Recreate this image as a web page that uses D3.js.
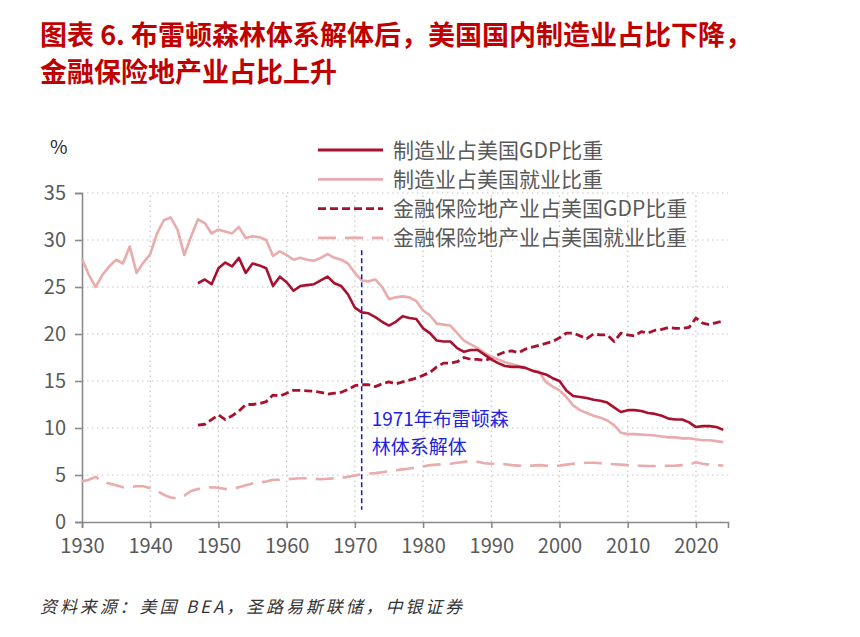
<!DOCTYPE html>
<html>
<head>
<meta charset="utf-8">
<script src="https://cdn.jsdelivr.net/npm/d3@7"></script>
<style>
  body { margin: 0; background: #fff; }
  svg text { font-family: "Noto Sans CJK SC", "Liberation Sans", sans-serif; }
</style>
</head>
<body>
<div id="chart"></div>
<script>
// data (%)
var mfgEmpStart = 1930;
var mfgEmp = [28.0, 26.3, 25.0, 26.3, 27.2, 27.9, 27.5, 29.3, 26.5, 27.6,
  28.5, 30.7, 32.1, 32.4, 31.1, 28.4, 30.4, 32.2, 31.8, 30.7,
  31.1, 30.9, 30.7, 31.4, 30.2, 30.4, 30.3, 30.0, 28.3, 28.8,
  28.4, 27.9, 28.1, 27.9, 27.8, 28.1, 28.5, 28.1, 27.9, 27.5,
  26.5, 25.7, 25.6, 25.8, 25.0, 23.7, 23.9, 24.0, 23.9, 23.5,
  22.5, 22.0, 21.1, 21.0, 20.9, 20.1, 19.3, 18.9, 18.5, 18.0,
  17.6, 17.3, 17.0, 16.8, 16.6, 16.4, 16.1, 16.0, 14.9, 14.4,
  14.0, 13.3, 12.4, 11.9, 11.6, 11.3, 11.1, 10.8, 10.3, 9.5,
  9.35, 9.35, 9.3, 9.25, 9.2, 9.1, 9.0, 9.0, 8.9, 8.9,
  8.8, 8.7, 8.7, 8.6, 8.5];

var mfgGdpStart = 1947;
var mfgGdp = [25.4, 25.8, 25.3,
  27.0, 27.6, 27.2, 28.1, 26.5, 27.5, 27.3, 27.0, 25.1, 26.1,
  25.5, 24.6, 25.1, 25.2, 25.3, 25.7, 26.1, 25.4, 25.1, 24.2,
  22.8, 22.3, 22.2, 21.8, 21.3, 20.9, 21.3, 21.9, 21.7, 21.6,
  20.6, 20.1, 19.3, 19.2, 19.2, 18.5, 18.1, 18.3, 18.3, 17.8,
  17.3, 16.9, 16.6, 16.5, 16.5, 16.4, 16.1, 15.9, 15.7, 15.3,
  15.0, 14.0, 13.4, 13.3, 13.2, 13.0, 12.9, 12.7, 12.2, 11.7,
  11.9, 11.9, 11.8, 11.6, 11.5, 11.3, 11.0, 10.9, 10.9, 10.6,
  10.1, 10.2, 10.2, 10.1, 9.8];

var finGdpStart = 1947;
var finGdp = [10.3, 10.4, 10.9,
  11.4, 10.9, 11.3, 11.8, 12.5, 12.5, 12.6, 12.8, 13.5, 13.4,
  13.7, 14.0, 14.0, 13.95, 13.9, 13.8, 13.6, 13.7, 13.8, 14.1,
  14.5, 14.6, 14.6, 14.4, 14.7, 14.9, 14.7, 14.9, 15.1, 15.3,
  15.6, 15.9, 16.5, 16.9, 16.9, 17.05, 17.5, 17.3, 17.3, 17.2,
  17.4, 17.8, 18.1, 18.2, 18.0, 18.4, 18.6, 18.8, 19.0, 19.2,
  19.6, 20.1, 20.1, 19.8, 19.5, 20.0, 19.9, 19.9, 19.2, 20.1,
  19.9, 19.8, 20.25, 20.1, 20.4, 20.5, 20.7, 20.6, 20.6, 20.7,
  21.7, 21.15, 21.0, 21.2, 21.4];

var finEmpStart = 1930;
var finEmp = [4.3, 4.5, 4.8, 4.3, 4.1, 3.9, 3.7, 3.7, 3.8, 3.8,
  3.6, 3.3, 2.9, 2.6, 2.5, 2.8, 3.3, 3.5, 3.6, 3.7,
  3.65, 3.5, 3.5, 3.7, 3.9, 4.1, 4.2, 4.3, 4.5, 4.5,
  4.55, 4.6, 4.65, 4.65, 4.6, 4.55, 4.6, 4.65, 4.7, 4.8,
  4.95, 5.07, 5.15, 5.2, 5.3, 5.4, 5.5, 5.6, 5.7, 5.8,
  5.9, 6.05, 6.1, 6.15, 6.2, 6.3, 6.4, 6.5, 6.4, 6.25,
  6.2, 6.2, 6.15, 6.05, 6.0, 5.95, 6.0, 6.05, 6.0, 5.95,
  6.0, 6.1, 6.2, 6.25, 6.3, 6.3, 6.25, 6.2, 6.15, 6.1,
  6.05, 6.0, 5.98, 5.96, 5.95, 5.96, 5.98, 6.0, 6.05, 6.1,
  6.35, 6.2, 6.1, 6.05, 6.0];

var seriesNames = ["制造业占美国GDP比重", "制造业占美国就业比重",
  "金融保险地产业占美国GDP比重", "金融保险地产业占美国就业比重"];
var xTicks = [1930, 1940, 1950, 1960, 1970, 1980, 1990, 2000, 2010, 2020];
var yTicks = [0, 5, 10, 15, 20, 25, 30, 35];
var eventYear = 1971;
var eventLabel = ["1971年布雷顿森", "林体系解体"];

var svgWidth = 860, svgHeight = 637;
var dark = "#A8112E", light = "#E9ABAC";

var svg = d3.select("#chart").append("svg")
  .attr("width", svgWidth)
  .attr("height", svgHeight);

// title
svg.append("text")
  .attr("x", 40).attr("y", 45)
  .attr("fill", "#C00000").attr("font-size", 27).attr("font-weight", 700)
  .text("图表 6. 布雷顿森林体系解体后，美国国内制造业占比下降，");
svg.append("text")
  .attr("x", 40).attr("y", 82)
  .attr("fill", "#C00000").attr("font-size", 27).attr("font-weight", 700)
  .text("金融保险地产业占比上升");

var x = d3.scaleLinear().domain([1930, 2024.7]).range([82, 728]);
var y = d3.scaleLinear().domain([0, 35]).range([522, 193]);

// grid
svg.append("g").selectAll("line")
  .data(yTicks.slice(1))
  .enter().append("line")
  .attr("x1", x(1930)).attr("x2", x(2024.7))
  .attr("y1", d => y(d)).attr("y2", d => y(d))
  .attr("stroke", "#c4c4c4").attr("stroke-width", 1.2)
  .attr("stroke-dasharray", "1.5,3.5");

svg.append("g").selectAll("line")
  .data(xTicks.slice(1))
  .enter().append("line")
  .attr("x1", d => x(d)).attr("x2", d => x(d))
  .attr("y1", y(0)).attr("y2", y(35))
  .attr("stroke", "#c4c4c4").attr("stroke-width", 1.2)
  .attr("stroke-dasharray", "1.5,3.5");

// axes
var xAxis = svg.append("g")
  .attr("transform", `translate(0, ${y(0)})`)
  .call(d3.axisBottom(x).tickValues(xTicks).tickFormat(d3.format("d")).tickSizeOuter(0).tickSize(6).tickPadding(11));

var yAxis = svg.append("g")
  .attr("transform", `translate(${x(1930)}, 0)`)
  .call(d3.axisLeft(y).tickValues(yTicks).tickSizeOuter(0).tickSize(7).tickPadding(9));

[xAxis, yAxis].forEach(function(g) {
  g.select(".domain").attr("stroke", "#8a8a8a").attr("stroke-width", 1.6);
  g.selectAll(".tick line").attr("stroke", "#8a8a8a").attr("stroke-width", 1.6);
  g.selectAll(".tick text")
    .attr("fill", "#595959")
    .attr("font-size", 20)
    .attr("font-family", "Liberation Sans, Arial, sans-serif");
});

svg.append("text")
  .attr("x", 50).attr("y", 154)
  .attr("font-size", 19).attr("fill", "#262626")
  .attr("font-family", "Liberation Sans, Arial, sans-serif")
  .text("%");

function toPoints(start, values) {
  return values.map(function(v, i) { return { year: start + i, value: v }; });
}

var line = d3.line()
  .x(d => x(d.year))
  .y(d => y(d.value));

var series = [
  { data: toPoints(finEmpStart, finEmp), color: light, dash: "18,9", width: 2.6 },
  { data: toPoints(finGdpStart, finGdp), color: dark, dash: "8,4", width: 2.8 },
  { data: toPoints(mfgEmpStart, mfgEmp), color: light, dash: null, width: 2.6 },
  { data: toPoints(mfgGdpStart, mfgGdp), color: dark, dash: null, width: 2.6 }
];

series.forEach(function(s) {
  svg.append("path")
    .datum(s.data)
    .attr("fill", "none")
    .attr("stroke", s.color)
    .attr("stroke-width", s.width)
    .attr("stroke-linejoin", "round")
    .attr("stroke-dasharray", s.dash)
    .attr("d", line);
});

// 1971 marker
svg.append("line")
  .attr("x1", x(eventYear)).attr("x2", x(eventYear))
  .attr("y1", y(28.9)).attr("y2", y(1.3))
  .attr("stroke", "#1414c8").attr("stroke-width", 1.5)
  .attr("stroke-dasharray", "5,3");

svg.append("g").selectAll("text")
  .data(eventLabel)
  .enter().append("text")
  .attr("x", x(eventYear) + 10)
  .attr("y", (d, i) => 426 + i * 28)
  .attr("fill", "#2222e0").attr("font-size", 19)
  .text(d => d);

// legend
var legendStyle = [
  { color: dark, dash: null },
  { color: light, dash: null },
  { color: dark, dash: "8,4" },
  { color: light, dash: "18,9" }
];

var legend = svg.append("g").selectAll("g")
  .data(seriesNames)
  .enter().append("g")
  .attr("transform", (d, i) => `translate(318, ${150 + i * 29.3})`);

legend.append("line")
  .attr("x1", 0).attr("x2", 65)
  .attr("stroke", (d, i) => legendStyle[i].color)
  .attr("stroke-width", 2.8)
  .attr("stroke-dasharray", (d, i) => legendStyle[i].dash);

legend.append("text")
  .attr("x", 75).attr("y", 7.5)
  .attr("fill", "#595959").attr("font-size", 21)
  .text(d => d);

// source
svg.append("text")
  .attr("x", 40).attr("y", 613)
  .attr("fill", "#333").attr("font-size", 17)
  .attr("font-style", "italic")
  .attr("letter-spacing", 2.9)
  .attr("font-family", "Liberation Serif, Noto Sans CJK SC, serif")
  .text("资料来源：美国 BEA，圣路易斯联储，中银证券");
</script>
</body>
</html>
